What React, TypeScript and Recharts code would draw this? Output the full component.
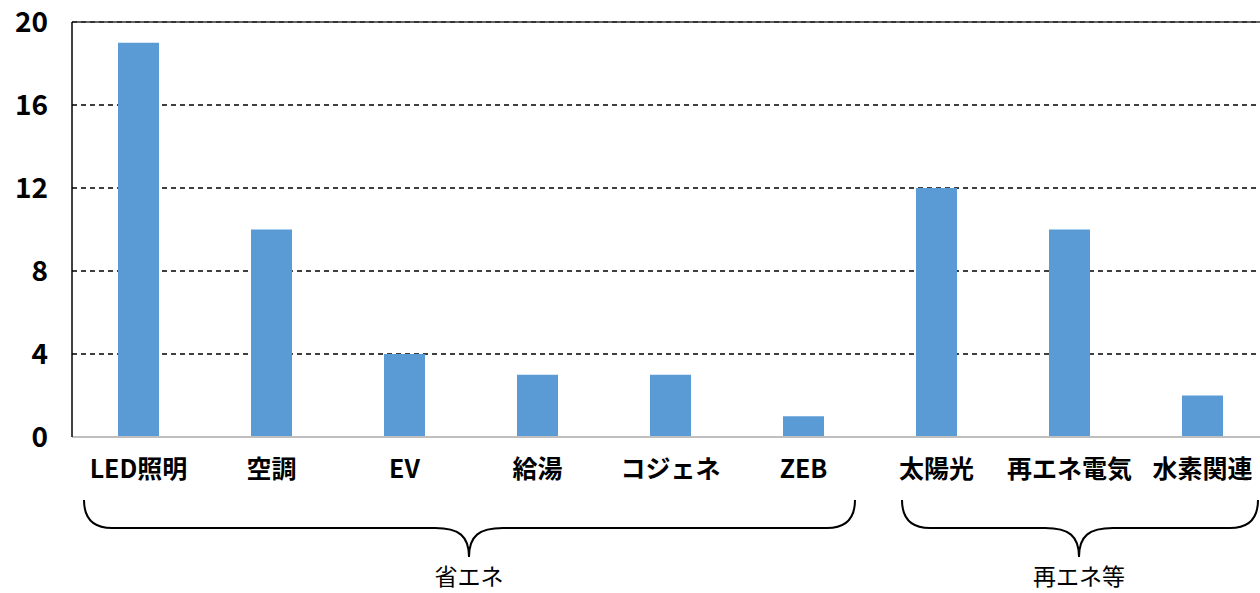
import { BarChart, Bar, XAxis, YAxis, CartesianGrid, ReferenceLine } from "recharts";

const categories = ["LED照明", "空調", "EV", "給湯", "コジェネ", "ZEB", "太陽光", "再エネ電気", "水素関連"];
const counts = [19, 10, 4, 3, 3, 1, 12, 10, 2];
const yTicks = [0, 4, 8, 12, 16, 20];
const groupLabels = ["省エネ", "再エネ等"];

const data = categories.map((name, i) => ({ name, value: counts[i] }));

const W = 1260;
const H = 593;
// the plot runs a little past the right edge of the picture
const CHART_W = 1269;
const FONT = "'Noto Sans CJK JP', 'Noto Sans', sans-serif";

// brace annotations under the category labels
const braces = [
    { x1: 84, x2: 855, mid: 469, labelY: 585 },
    { x1: 902, x2: 1258, mid: 1079, labelY: 585 },
];

function bracePath(x1: number, x2: number, mid: number) {
    const top = 500;
    const base = 528;
    const tip = 557;
    const r = 28;
    return [
        `M ${x1} ${top}`,
        `Q ${x1} ${base} ${x1 + r} ${base}`,
        `L ${mid - 34} ${base}`,
        `C ${mid - 10} ${base} ${mid} ${base + 8} ${mid} ${tip}`,
        `C ${mid} ${base + 8} ${mid + 10} ${base} ${mid + 34} ${base}`,
        `L ${x2 - r} ${base}`,
        `Q ${x2} ${base} ${x2} ${top}`,
    ].join(" ");
}

export default function App() {
    return (
        <div style={{ position: "absolute", left: 0, top: 0, width: W, height: H, background: "#fff", overflow: "hidden" }}>
            <BarChart
                width={CHART_W}
                height={H}
                data={data}
                margin={{ top: 22, right: 0, bottom: 126, left: 0 }}
                barSize={41}
            >
                <CartesianGrid vertical={false} stroke="#000" strokeWidth={1.4} strokeDasharray="5 4" />
                <ReferenceLine y={20} stroke="#333" strokeWidth={1.5} />
                <XAxis
                    dataKey="name"
                    height={30}
                    interval={0}
                    tickLine={false}
                    tickSize={0}
                    tickMargin={23}
                    axisLine={{ stroke: "#bfbfbf", strokeWidth: 2 }}
                    tick={{ fill: "#000", fontSize: 25, fontWeight: 700, fontFamily: FONT }}
                />
                <YAxis
                    width={72}
                    domain={[0, 20]}
                    ticks={yTicks}
                    tickLine={false}
                    tickSize={0}
                    tickMargin={24}
                    axisLine={{ stroke: "#000", strokeWidth: 1.5 }}
                    tick={{ fill: "#000", fontSize: 28, fontWeight: 700, fontFamily: FONT }}
                />
                <Bar dataKey="value" fill="#5b9bd5" isAnimationActive={false} />
            </BarChart>
            <svg width={W} height={H} style={{ position: "absolute", left: 0, top: 0, pointerEvents: "none" }}>
                {braces.map((b, i) => (
                    <g key={i}>
                        <path d={bracePath(b.x1, b.x2, b.mid)} fill="none" stroke="#000" strokeWidth={2} />
                        <text x={b.mid} y={b.labelY} textAnchor="middle" fontSize={23} fontFamily={FONT} fill="#000">
                            {groupLabels[i]}
                        </text>
                    </g>
                ))}
            </svg>
        </div>
    );
}
